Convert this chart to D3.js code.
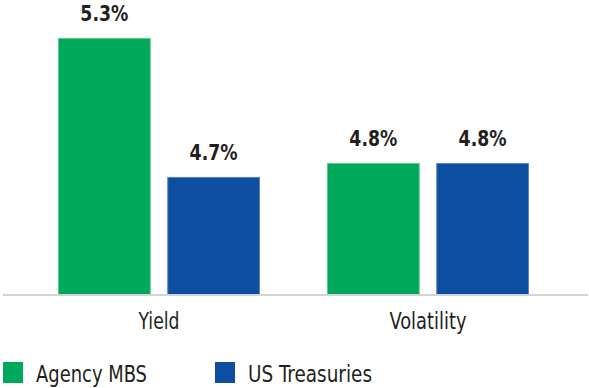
<!DOCTYPE html>
<html>
<head>
<meta charset="utf-8">
<script src="https://cdn.jsdelivr.net/npm/d3@7"></script>
<style>
  html, body { margin: 0; padding: 0; background: #ffffff; }
  svg { display: block; }
</style>
</head>
<body>
<svg id="chart" width="589" height="388"></svg>
<script>
// ---- data ----
const categories = ["Yield", "Volatility"];
const seriesNames = ["Agency MBS", "US Treasuries"];
const agencyMBS = [5.30, 4.76];
const usTreasuries = [4.70, 4.76];
const valueLabels = [["5.3%", "4.7%"], ["4.8%", "4.8%"]];
const colors = ["#00a859", "#0d4ea0"];
const strokeColors = ["#5cc88f", "#5a86c0"];

const seriesValues = [agencyMBS, usTreasuries];
const rows = categories.map((c, i) => ({
  category: c,
  bars: seriesNames.map((s, j) => ({ series: s, idx: j, value: seriesValues[j][i], label: valueLabels[i][j] }))
}));

const svg = d3.select("#chart");
const baseY = 295, topY = 38;

const x0 = d3.scaleBand().domain(categories).range([0, 587]).paddingInner(0.249).paddingOuter(0.2156);
const x1 = d3.scaleBand().domain(seriesNames).range([0, x0.bandwidth()]).paddingInner(0.151).paddingOuter(0);
const y = d3.scaleLinear().domain([4.19, 5.30]).range([baseY, topY]);

const textColor = "#231f20";
const narrow = "'Liberation Sans Narrow', 'DejaVu Sans Condensed', 'Liberation Sans', sans-serif";

const groups = svg.selectAll("g.grp").data(rows).enter().append("g")
  .attr("class", "grp")
  .attr("transform", d => `translate(${x0(d.category)},0)`);

groups.selectAll("rect").data(d => d.bars).enter().append("rect")
  .attr("x", d => x1(d.series) + 0.5)
  .attr("y", d => y(d.value) + 0.5)
  .attr("width", x1.bandwidth() - 1)
  .attr("height", d => baseY - y(d.value) - 0.5)
  .attr("fill", d => colors[d.idx])
  .attr("stroke", d => strokeColors[d.idx])
  .attr("stroke-width", 1);

groups.selectAll("text.val").data(d => d.bars).enter().append("text")
  .attr("class", "val")
  .attr("x", d => x1(d.series) + x1.bandwidth() / 2)
  .attr("y", d => y(d.value) - 17)
  .attr("text-anchor", "middle")
  .attr("font-family", "'DejaVu Sans Condensed', 'Liberation Sans', sans-serif")
  .attr("font-weight", "bold")
  .attr("font-size", "22px")
  .attr("textLength", 48)
  .attr("lengthAdjust", "spacingAndGlyphs")
  .attr("fill", textColor)
  .text(d => d.label);

// baseline
svg.append("line")
  .attr("x1", 3).attr("x2", 588)
  .attr("y1", baseY).attr("y2", baseY)
  .attr("stroke", "#d4d4d4").attr("stroke-width", 2);

// category axis labels
const catWidths = { "Yield": 41, "Volatility": 77 };
const xAxis = d3.axisBottom(x0).tickSize(0).tickPadding(0);
const axG = svg.append("g").attr("transform", `translate(0,${baseY})`).call(xAxis);
axG.select(".domain").remove();
axG.selectAll("text")
  .attr("dy", null)
  .attr("y", 34)
  .attr("font-family", narrow)
  .attr("font-size", "22.5px")
  .attr("textLength", d => catWidths[d])
  .attr("lengthAdjust", "spacingAndGlyphs")
  .attr("fill", textColor);

// legend
const legendX = [3, 215];
const legendWidths = [111, 124];
const lg = svg.selectAll("g.leg").data(seriesNames).enter().append("g")
  .attr("class", "leg")
  .attr("transform", (d, i) => `translate(${legendX[i]},362)`);
lg.append("rect")
  .attr("width", 20).attr("height", 21)
  .attr("fill", (d, i) => colors[i]);
lg.append("text")
  .attr("x", 33).attr("y", 20)
  .attr("font-family", narrow)
  .attr("font-size", "22.5px")
  .attr("textLength", (d, i) => legendWidths[i])
  .attr("lengthAdjust", "spacingAndGlyphs")
  .attr("fill", textColor)
  .text(d => d);
</script>
</body>
</html>
